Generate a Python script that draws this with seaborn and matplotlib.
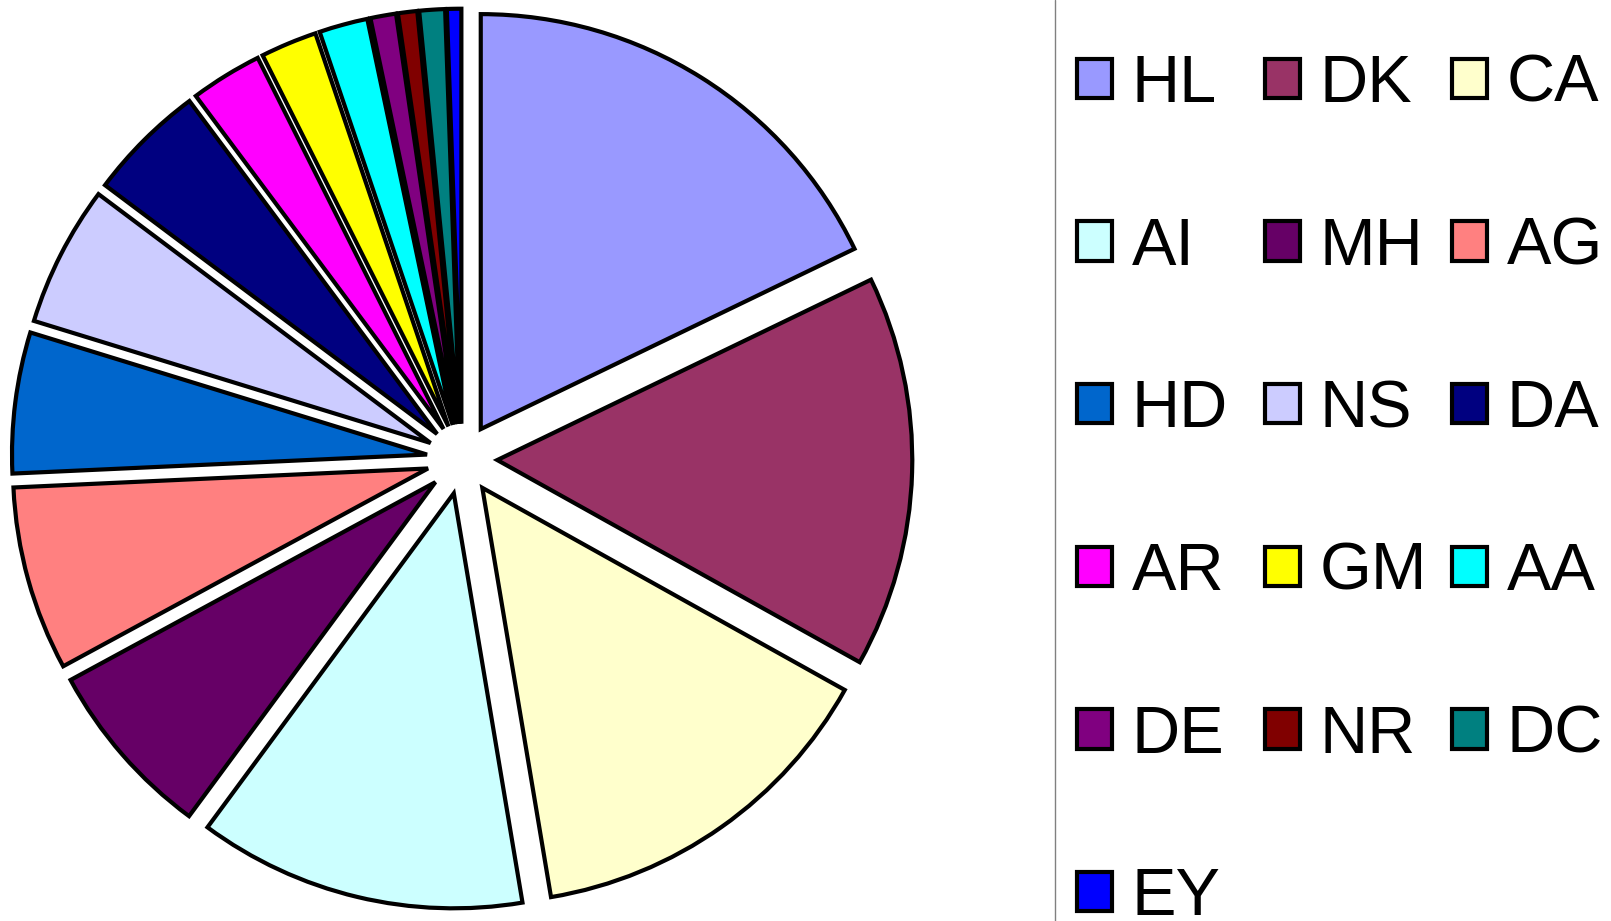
import matplotlib
matplotlib.use("Agg")
import matplotlib.pyplot as plt
import seaborn as sns
from matplotlib.lines import Line2D
from matplotlib.patches import Patch

categories = ["HL", "DK", "CA", "AI", "MH", "AG", "HD", "NS", "DA", "AR",
              "GM", "AA", "DE", "NR", "DC", "EY"]
values = [17.9, 15.3, 14.3, 12.8, 7.0, 7.2, 5.5, 5.5, 4.6, 2.8,
          2.2, 1.9, 1.0, 0.75, 1.0, 0.56]
colors = ["#9999FF", "#993366", "#FFFFCC", "#CCFFFF", "#660066", "#FF8080",
          "#0066CC", "#CCCCFF", "#000080", "#FF00FF", "#FFFF00", "#00FFFF",
          "#800080", "#800000", "#008080", "#0000FF"]

sns.set_style("white")
plt.rcParams["font.family"] = ["Liberation Sans", "DejaVu Sans"]
plt.rcParams["text.color"] = "black"

W, H = 1611, 921
fig = plt.figure(figsize=(W / 100, H / 100), dpi=100)
ax = fig.add_axes([0, 0, 1, 1])

cx, cy, R = 462, 459, 415
ax.pie(values, colors=colors, startangle=90, counterclock=False,
       explode=[0.085] * len(values), radius=1,
       wedgeprops=dict(edgecolor="black", linewidth=3, joinstyle="miter"))
ax.set_xlim(-cx / R, (W - cx) / R)
ax.set_ylim(-(H - cy) / R, cy / R)
ax.set_aspect("auto")
ax.axis("off")

fig.add_artist(Line2D([1055 / W, 1055 / W], [0, 1], transform=fig.transFigure,
                      color="#808080", linewidth=1))

handles = [Patch(facecolor=c, edgecolor="black", linewidth=3) for c in colors]
col_x = [1077, 1265, 1452]
for k in range(3):
    idx = list(range(k, len(categories), 3))
    leg = fig.legend([handles[i] for i in idx], [categories[i] for i in idx],
                     ncol=1, loc="upper left",
                     bbox_to_anchor=(col_x[k] / W, 1 - 54 / H),
                     frameon=False, fontsize=48, handlelength=0.53,
                     handleheight=0.53, handletextpad=0.29, labelspacing=1.51,
                     borderpad=0, borderaxespad=0, labelcolor="black")

fig.savefig("out.png", dpi=100)
